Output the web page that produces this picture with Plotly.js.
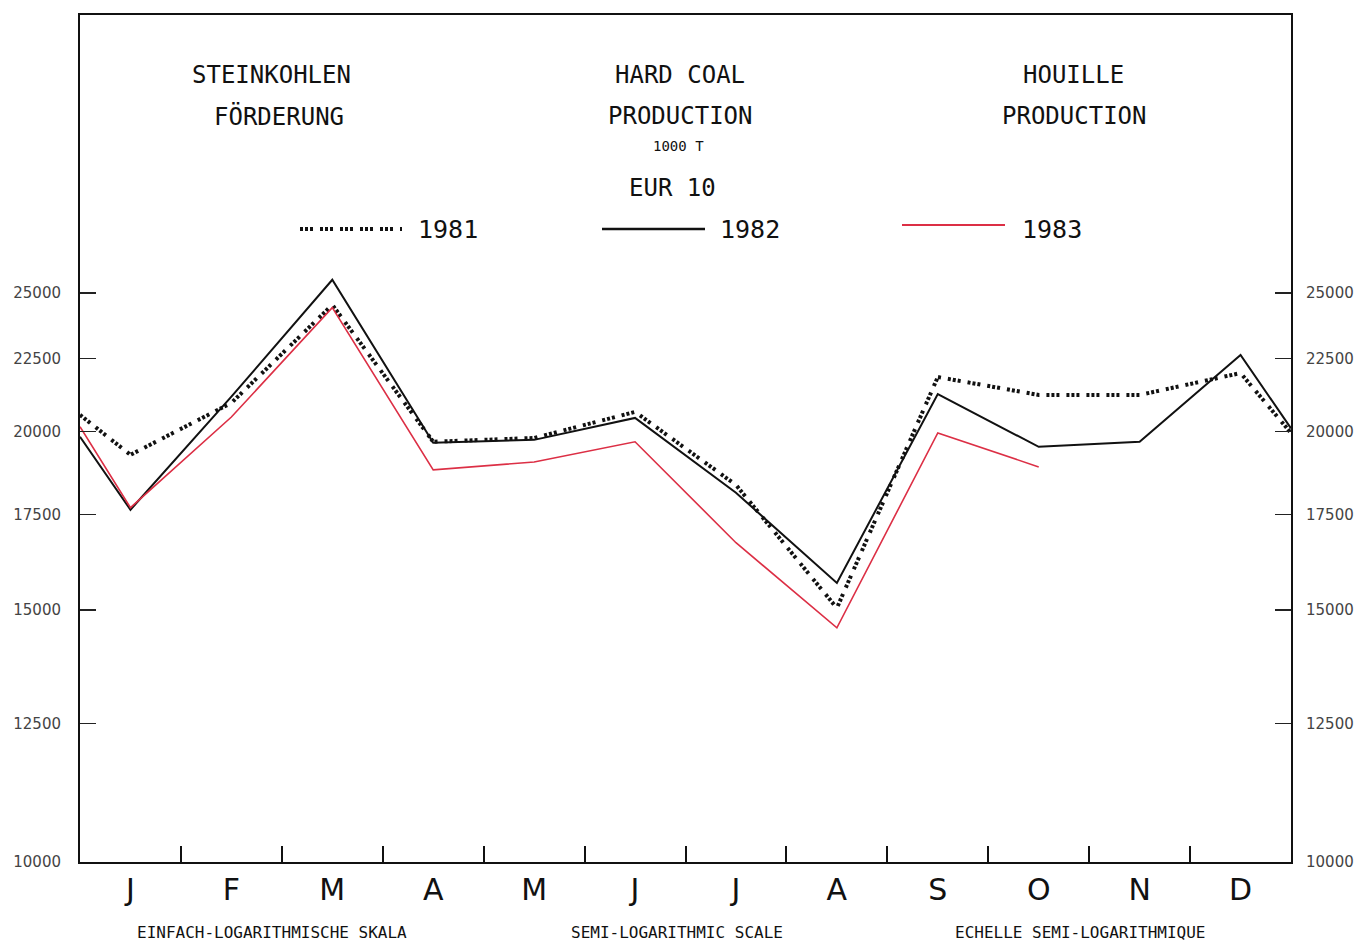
<!DOCTYPE html>
<html>
<head>
<meta charset="utf-8">
<script src="https://cdn.plot.ly/plotly-3.0.1.min.js"></script>
<style>
html,body{margin:0;padding:0;background:#fff;}
#chart{width:1360px;height:942px;}
</style>
</head>
<body>
<div id="chart"></div>
<script>
// Month labels (tick labels)
const months = ['J','F','M','A','M','J','J','A','S','O','N','D'];
// Month index of each plotted point: left edge (previous Dec/Jan), Jan..Dec, right edge (Dec/next Jan)
const monthIndex = [-0.5,0,1,2,3,4,5,6,7,8,9,10,11,11.5];
// Hard coal production, EUR 10, 1000 t
const prod1981 = [20540,19260,20940,24520,19670,19790,20640,18350,15050,21830,21210,21210,21970,19950];
const prod1982 = [19830,17630,21150,25530,19640,19730,20440,18120,15670,21240,19510,19670,22620,20100];
const prod1983 = [20150,17690,20470,24410,18800,19040,19670,16720,14580,19950,18890,null,null,null];
const years = ['1981','1982','1983'];
// Y axis ticks
const yTickVals = [10000,12500,15000,17500,20000,22500,25000];
const yTickText = ['10000','12500','15000','17500','20000','22500','25000'];
// Month boundary ticks
const boundaryTicks = [0.5,1.5,2.5,3.5,4.5,5.5,6.5,7.5,8.5,9.5,10.5];

const RED = '#dc2f45';
const DOT = '3px,2px,3px,2px,3px,7px';
const yRange = [4, Math.log10(39100)];

const traces = [
  {x: monthIndex, y: prod1981, type:'scatter', mode:'lines', name: years[0],
   line:{color:'#111', width:4, dash: DOT}},
  {x: monthIndex, y: prod1982, type:'scatter', mode:'lines', name: years[1],
   line:{color:'#111', width:2}},
  {x: monthIndex, y: prod1983, type:'scatter', mode:'lines', name: years[2],
   line:{color:RED, width:1.6}, connectgaps:false},
  // carrier for right-hand axis
  {x: monthIndex, y: prod1982, type:'scatter', mode:'lines', yaxis:'y2',
   line:{color:'rgba(0,0,0,0)', width:0}, hoverinfo:'skip', showlegend:false}
];

const mono = 'DejaVu Sans Mono, Liberation Mono, monospace';
const sans = 'DejaVu Sans, Liberation Sans, sans-serif';
function px2x(px){ return (px-80)/1211; }
function px2y(py){ return (862-py)/847; }
function ann(text, px, py, size, family, anchor){
  return {text:text, x:px2x(px), y:px2y(py), xref:'paper', yref:'paper',
    showarrow:false, xanchor:anchor||'center', yanchor:'middle',
    font:{family:family||mono, size:size, color:'#111'}};
}

const annotations = [
  ann('STEINKOHLEN', 271, 75, 24),
  ann('FÖRDERUNG', 279, 116, 24),
  ann('HARD COAL', 680, 75, 24),
  ann('PRODUCTION', 680, 116, 24),
  ann('1000 T', 678, 146, 14),
  ann('EUR 10', 672, 188, 24),
  ann('HOUILLE', 1073, 75, 24),
  ann('PRODUCTION', 1074, 116, 24),
  ann(years[0], 416, 230, 25, mono, 'left'),
  ann(years[1], 718, 230, 25, mono, 'left'),
  ann(years[2], 1020, 230, 25, mono, 'left'),
  ann('EINFACH-LOGARITHMISCHE SKALA', 272, 932, 16),
  ann('SEMI-LOGARITHMIC SCALE', 677, 932, 16),
  ann('ECHELLE SEMI-LOGARITHMIQUE', 1080, 932, 16)
];

const shapes = [
  {type:'line', xref:'paper', yref:'paper', x0:px2x(300), x1:px2x(402), y0:px2y(229), y1:px2y(229),
   line:{color:'#111', width:4, dash:DOT}},
  {type:'line', xref:'paper', yref:'paper', x0:px2x(602), x1:px2x(705), y0:px2y(229), y1:px2y(229),
   line:{color:'#111', width:2.5}},
  {type:'line', xref:'paper', yref:'paper', x0:px2x(902), x1:px2x(1005), y0:px2y(225), y1:px2y(225),
   line:{color:RED, width:1.8}}
];

const layout = {
  width:1360, height:942,
  margin:{l:80, r:69, t:15, b:80},
  paper_bgcolor:'#fff', plot_bgcolor:'#fff',
  showlegend:false,
  xaxis:{
    range:[-0.5, 11.5], tickmode:'array', tickvals:[0,1,2,3,4,5,6,7,8,9,10,11], ticktext: months,
    ticks:'', showgrid:false, zeroline:false, showline:true, linecolor:'#111', linewidth:2, mirror:true,
    tickfont:{family:sans, size:30, color:'#111'}, ticklabelstandoff:0,
    minor:{tickmode:'array', tickvals: boundaryTicks, ticks:'inside', ticklen:16, tickwidth:2, tickcolor:'#111', showgrid:false}
  },
  yaxis:{
    type:'log', range:yRange, tickmode:'array', tickvals:yTickVals, ticktext:yTickText,
    ticks:'inside', ticklen:16, tickwidth:1.5, tickcolor:'#222',
    showgrid:false, zeroline:false, showline:true, linecolor:'#111', linewidth:2, mirror:true,
    tickfont:{family:sans, size:15, color:'#444'}, ticklabelstandoff:14
  },
  yaxis2:{
    type:'log', range:yRange, overlaying:'y', side:'right', tickmode:'array', tickvals:yTickVals, ticktext:yTickText,
    ticks:'inside', ticklen:16, tickwidth:1.5, tickcolor:'#222',
    showgrid:false, zeroline:false, showline:false,
    tickfont:{family:sans, size:15, color:'#444'}, ticklabelstandoff:14
  },
  annotations: annotations,
  shapes: shapes
};

Plotly.newPlot('chart', traces, layout, {displayModeBar:false, staticPlot:true});
</script>
</body>
</html>
